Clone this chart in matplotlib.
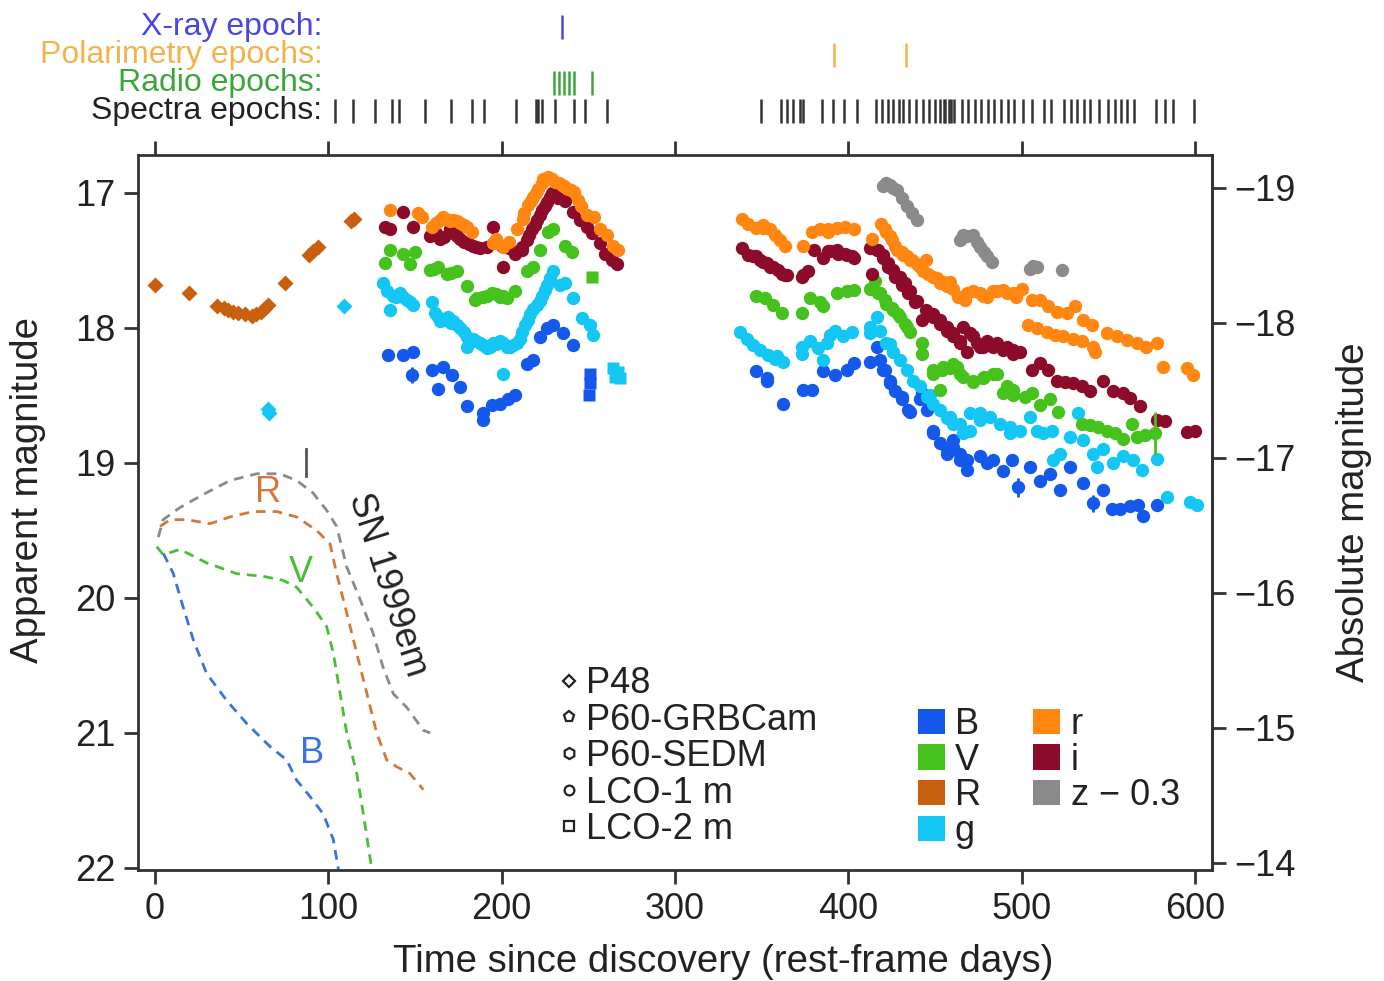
import matplotlib
matplotlib.use('Agg')
import matplotlib.pyplot as plt
from matplotlib.lines import Line2D
from matplotlib.patches import Patch

plt.rcParams['font.family'] = ['Liberation Sans', 'DejaVu Sans']

# ---------------- data (rest-frame days, apparent magnitude) ----------------
R_p48 = [(0, 17.68), (19.6, 17.74), (36, 17.84), (40, 17.85), (42, 17.87), (45, 17.88),
         (48, 17.89), (52, 17.90), (56, 17.91), (58, 17.90), (61, 17.88), (63, 17.86),
         (65, 17.83), (75, 17.67), (89, 17.46), (91, 17.43), (94, 17.40), (113, 17.21),
         (115, 17.19)]
g_p48 = [(65, 18.60), (66, 18.63), (109, 17.84)]

g_obs = [(131.8, 17.67), (133.7, 17.73), (135.6, 17.87), (137.5, 17.76), (139, 17.77),
         (141.4, 17.74), (143, 17.77), (145.2, 17.79), (147, 17.81), (149, 17.83),
         (159.6, 17.81), (161.6, 17.89), (163, 17.92), (164.5, 17.95), (167, 17.94),
         (169.3, 17.92), (171, 17.96), (172, 17.95), (174, 17.98), (176, 18.00),
         (178, 18.03), (179.8, 18.07), (179.8, 18.14), (182, 18.08), (183.7, 18.08),
         (185, 18.10), (187.5, 18.11), (189, 18.13), (191.4, 18.15), (193, 18.14),
         (195.2, 18.11), (197, 18.12), (199, 18.10), (201, 18.34), (201, 18.11),
         (203, 18.14), (205, 18.14), (206.8, 18.13), (209, 18.11), (210.6, 18.08),
         (212, 18.03), (213.5, 17.98), (215, 17.94), (216.4, 17.90), (218, 17.86),
         (220.2, 17.83), (222, 17.80), (223, 17.76), (225, 17.72), (226, 17.68),
         (228, 17.63), (229.8, 17.58), (233.7, 17.68), (236.6, 17.67), (241.4, 17.78),
         (246.2, 17.93), (251, 17.98), (252.9, 18.05),
         (337.5, 18.03), (341.4, 18.08), (345.2, 18.13), (349, 18.16), (353.9, 18.20),
         (357.7, 18.23), (358.7, 18.21), (362.5, 18.25), (373, 18.19), (373, 18.14),
         (378, 18.10), (382.7, 18.15), (385.6, 18.24), (387.5, 18.11), (389.5, 18.05),
         (392.3, 18.02), (397, 18.06), (402, 18.03), (412.5, 18.04), (412.5, 17.99),
         (416.4, 17.92), (418.3, 18.02), (422, 18.11), (424, 18.12), (426, 18.18),
         (429.8, 18.24), (433.7, 18.31), (437.5, 18.39), (441.4, 18.43), (445.2, 18.51),
         (447, 18.50), (449, 18.56), (453, 18.61), (456.8, 18.67), (458.7, 18.66),
         (460.6, 18.71), (464.5, 18.71), (466.4, 18.78), (470, 18.63), (470.2, 18.76),
         (475.9, 18.63), (476, 18.68), (481.7, 18.66), (487.5, 18.71), (493.2, 18.73),
         (493.3, 18.78), (499, 18.76), (504.8, 18.66), (508.6, 18.76), (512.5, 18.78),
         (517.3, 18.76), (518.2, 18.98), (522.1, 18.93), (527.9, 18.81), (532.7, 18.63),
         (535.6, 18.83), (541.3, 18.93), (543.2, 19.03), (547.1, 18.90), (552.9, 19.00),
         (558.6, 18.95), (564.4, 18.98), (569.2, 19.05), (577.9, 18.97), (583.6, 19.25),
         (597.1, 19.29), (600.9, 19.31)]
g_lco2 = [(264, 18.30), (265.5, 18.36), (267, 18.33), (268, 18.37)]

V_obs = [(132.7, 17.52), (135.6, 17.42), (143.3, 17.45), (147.1, 17.53), (150, 17.44),
         (158.7, 17.57), (161, 17.56), (163.5, 17.55), (168.3, 17.60), (171, 17.59),
         (174, 17.58), (179.8, 17.69), (184.7, 17.79), (186, 17.78), (189.5, 17.77),
         (191.5, 17.76), (194.3, 17.74), (197, 17.75), (199, 17.77), (201, 17.76),
         (203, 17.78), (207.7, 17.73), (214.5, 17.58), (218.3, 17.55), (222.2, 17.42),
         (227, 17.29), (229.8, 17.27), (236.6, 17.39), (240.4, 17.44),
         (347, 17.76), (352, 17.78), (356.8, 17.83), (361.6, 17.89), (373, 17.89),
         (378, 17.78), (383.7, 17.81), (385.6, 17.84), (393.3, 17.74), (399, 17.73),
         (403, 17.72), (412.5, 17.71), (415.4, 17.65), (417.3, 17.74), (418.3, 17.74),
         (421, 17.79), (422, 17.82), (425, 17.85), (426, 17.87), (428.9, 17.90),
         (429.8, 17.92), (432.7, 17.97), (433.7, 17.99), (435.6, 18.03), (442.3, 18.11),
         (442.3, 18.19), (449, 18.31), (449, 18.34), (453, 18.46), (453.9, 18.31),
         (454.8, 18.29), (458.7, 18.30), (460.6, 18.27), (462.5, 18.29), (464.5, 18.34),
         (466.3, 18.36), (472, 18.39), (472.1, 18.40), (477.9, 18.37), (478, 18.36),
         (483.6, 18.34), (485.6, 18.34), (489.4, 18.48), (491.4, 18.43), (495.2, 18.50),
         (495, 18.46), (501.9, 18.51), (505.8, 18.48), (510.6, 18.57), (516.3, 18.53),
         (521.1, 18.62), (534.6, 18.71), (539.4, 18.72), (544.2, 18.73), (549, 18.76),
         (553.8, 18.78), (558.6, 18.82), (563.4, 18.71), (566.3, 18.81), (571.1, 18.79),
         (576.9, 18.78)]
V_lco2 = [(252, 17.62)]

r_obs = [(135.6, 17.13), (152, 17.15), (154, 17.18), (159.6, 17.25), (162, 17.22),
         (164.5, 17.20), (166, 17.18), (168, 17.19), (170, 17.21), (172, 17.20),
         (174, 17.21), (176, 17.22), (178, 17.24), (180, 17.25), (182.7, 17.29),
         (195, 17.37), (197, 17.34), (201, 17.40), (204, 17.36), (208.7, 17.27),
         (212.5, 17.19), (213, 17.15), (215.4, 17.09), (217, 17.06), (218, 17.03),
         (220, 17.00), (221, 16.97), (223, 16.93), (224, 16.90), (226, 16.89),
         (227, 16.88), (229, 16.90), (231, 16.92), (233, 16.93), (234.6, 16.94),
         (236, 16.95), (238.5, 16.97), (240, 16.98), (242, 16.99), (244, 17.05),
         (246, 17.10), (249, 17.16), (253, 17.18), (256.8, 17.27), (260.6, 17.31),
         (264.5, 17.39), (267.3, 17.42),
         (338.5, 17.19), (342.3, 17.23), (347, 17.26), (351, 17.24), (351, 17.26),
         (354.8, 17.27), (357.7, 17.31), (360.6, 17.35), (363.5, 17.39), (374, 17.39),
         (379, 17.29), (383.7, 17.27), (388.5, 17.29), (388.5, 17.27), (393.3, 17.26),
         (398, 17.25), (403, 17.27), (413.5, 17.34), (419, 17.23), (421, 17.27),
         (422, 17.29), (424, 17.32), (425, 17.35), (427, 17.39), (428, 17.42),
         (430.8, 17.44), (431.8, 17.46), (433.7, 17.47), (435.6, 17.50), (436.6, 17.50),
         (439.5, 17.53), (441.4, 17.55), (443, 17.58), (445, 17.50), (446, 17.60),
         (449, 17.62), (451, 17.63), (453, 17.67), (454.8, 17.66), (456.8, 17.69),
         (458.7, 17.66), (460.6, 17.71), (463.5, 17.77), (464.5, 17.77), (467.3, 17.79),
         (468.3, 17.74), (472, 17.73), (476, 17.74), (477.9, 17.76), (479.8, 17.77),
         (483.6, 17.73), (485.6, 17.73), (489.4, 17.72), (491.4, 17.74), (495.2, 17.74),
         (497, 17.77), (500, 17.71), (503.8, 17.98), (505.8, 17.79), (508.6, 18.00),
         (510.6, 17.79), (514.4, 18.03), (515.4, 17.84), (519.2, 18.05), (520.2, 17.88),
         (524, 18.06), (525.9, 17.89), (529.8, 18.08), (530.7, 17.84), (534.6, 18.10),
         (535.6, 17.94), (540.4, 17.98), (541.3, 18.14), (542.3, 18.18), (549, 18.04),
         (554.8, 18.06), (560.6, 18.09), (566.3, 18.11), (572, 18.14), (577.9, 18.11),
         (581.7, 18.29), (595.2, 18.30), (599, 18.35)]

i_obs = [(132.7, 17.25), (135.6, 17.27), (143.3, 17.14), (149, 17.25), (158.7, 17.32),
         (162, 17.30), (164.5, 17.34), (167, 17.33), (170, 17.27), (172, 17.30),
         (174, 17.32), (176, 17.34), (178, 17.36), (181, 17.38), (183.7, 17.39),
         (185, 17.40), (187.5, 17.41), (191.4, 17.40), (195.2, 17.25), (200, 17.39),
         (201, 17.55), (204, 17.41), (207.7, 17.45), (211.6, 17.42), (212, 17.40),
         (214.5, 17.35), (216, 17.31), (217.3, 17.27), (219, 17.24), (220.2, 17.20),
         (222, 17.16), (223, 17.13), (225, 17.10), (226, 17.07), (228, 17.03),
         (229, 17.00), (231, 17.02), (232.7, 17.04), (236.6, 17.06), (241.4, 17.14),
         (245.2, 17.20), (249, 17.25), (252, 17.30), (256.8, 17.37), (259.6, 17.45),
         (263.5, 17.50), (266.4, 17.53),
         (338.5, 17.41), (342.3, 17.46), (345, 17.47), (347, 17.47), (349, 17.50),
         (351, 17.51), (353, 17.52), (354.8, 17.55), (356.8, 17.55), (359.6, 17.57),
         (361.6, 17.60), (363.5, 17.61), (364.5, 17.61), (373, 17.62), (374, 17.61),
         (377, 17.58), (380, 17.42), (385.6, 17.48), (388.5, 17.43), (389.5, 17.43),
         (393.3, 17.42), (394, 17.45), (398, 17.45), (399, 17.46), (402, 17.47),
         (403, 17.48), (412.5, 17.41), (413.5, 17.60), (416.4, 17.42), (417, 17.42),
         (420, 17.48), (420, 17.46), (423, 17.55), (423, 17.52), (426, 17.57),
         (427, 17.62), (430, 17.62), (430.8, 17.68), (432.7, 17.67), (434.6, 17.74),
         (435.6, 17.73), (438.5, 17.81), (439.5, 17.80), (442.3, 17.94), (445, 17.87),
         (449, 17.92), (449, 17.90), (453, 17.97), (453, 17.94), (456.8, 18.02),
         (456.8, 17.99), (460.6, 18.06), (460.6, 18.04), (464.5, 18.11), (464.5, 18.10),
         (466.3, 17.99), (468.3, 18.18), (470.2, 18.04), (472, 18.06), (474, 18.11),
         (476, 18.14), (477.9, 18.14), (479.8, 18.10), (483.6, 18.14), (485.6, 18.11),
         (489.4, 18.16), (491.4, 18.14), (495.2, 18.19), (495, 18.16), (499, 18.18),
         (505.8, 18.31), (510.6, 18.26), (515.4, 18.31), (520.2, 18.39), (525, 18.40),
         (529.8, 18.41), (534.6, 18.43), (539.4, 18.47), (547.1, 18.39), (552.9, 18.47),
         (558.6, 18.48), (562.5, 18.52), (568.2, 18.58), (577.9, 18.68), (582.7, 18.69),
         (595.2, 18.77), (600, 18.76)]

B_obs = [(134.6, 18.20), (143.3, 18.20), (149, 18.18), (148, 18.35), (159.6, 18.31),
         (163.5, 18.45), (166.4, 18.29), (171.2, 18.35), (176, 18.44), (179.8, 18.58),
         (189.5, 18.63), (189.5, 18.68), (194.3, 18.57), (199, 18.56), (203.9, 18.53),
         (207.7, 18.50), (214.5, 18.27), (218.3, 18.24), (222.2, 18.07), (226, 18.00),
         (229.8, 17.98), (235.6, 18.04), (241.4, 18.13),
         (347, 18.32), (352.9, 18.37), (352.9, 18.39), (362.5, 18.56), (374, 18.46),
         (379, 18.46), (385.6, 18.32), (392.3, 18.35), (399, 18.31), (403, 18.26),
         (412.5, 18.25), (416.4, 18.14), (418.3, 18.24), (420.2, 18.31), (421, 18.31),
         (424, 18.41), (424, 18.39), (427, 18.47), (430.8, 18.53), (430.8, 18.51),
         (434.6, 18.61), (435.6, 18.62), (441.4, 18.53), (442.3, 18.48), (445.2, 18.61),
         (445.2, 18.53), (449, 18.76), (449, 18.78), (453, 18.85), (456.8, 18.93),
         (456.8, 18.90), (460.6, 18.88), (460.6, 18.83), (464.5, 18.98), (464.5, 18.93),
         (468.3, 19.05), (468.3, 18.98), (475.9, 18.95), (479.8, 19.00), (483.6, 18.98),
         (489.4, 19.06), (494.2, 18.98), (498, 19.18), (504.8, 19.03), (510.6, 19.13),
         (516.3, 19.08), (522.1, 19.20), (527.9, 19.03), (535.6, 19.15), (541.3, 19.30),
         (547.1, 19.20), (551.9, 19.34), (556.7, 19.34), (562.5, 19.32), (567.3, 19.31),
         (570.2, 19.39), (577.9, 19.31)]
B_lco2 = [(251, 18.34), (251, 18.41), (250.5, 18.50)]

z_obs = [(420, 16.95), (422, 16.93), (424, 16.94), (426, 16.96), (428, 16.98),
         (430.8, 17.04), (433.7, 17.10), (436.6, 17.15), (439.5, 17.20), (464.5, 17.35),
         (466, 17.31), (468.3, 17.32), (472.1, 17.31), (474, 17.36), (476, 17.40),
         (478, 17.44), (479.8, 17.47), (482.7, 17.51), (504.8, 17.56), (506.5, 17.54),
         (508.6, 17.55), (523, 17.57)]

# points with visible error bars: (band, day, mag, err)
err_points = [('B', 148, 18.35, 0.06), ('B', 189.5, 18.66, 0.06), ('B', 498, 19.18, 0.07),
              ('B', 541.3, 19.30, 0.06), ('V', 576.9, 18.78, 0.16)]

# SN 1999em template curves (dashed)
sn_B = [(4.8, 19.67), (10.6, 19.82), (16.3, 20.07), (22.1, 20.31), (29.8, 20.56),
        (41.4, 20.76), (52.9, 20.93), (66.3, 21.10), (76, 21.20), (81.7, 21.35),
        (89.4, 21.47), (97.1, 21.60), (102.9, 21.79), (105.8, 22.01)]
sn_V = [(1, 19.62), (4.8, 19.68), (14.4, 19.64), (29.8, 19.74), (47.1, 19.82), (62.5, 19.84),
        (74, 19.87), (81.7, 19.92), (91.3, 20.07), (99, 20.21), (102.9, 20.41), (106.7, 20.70),
        (110.6, 21.00), (116.4, 21.30), (120.2, 21.60), (124, 21.92), (125, 22.0)]
sn_R = [(2.9, 19.47), (8.7, 19.42), (18.3, 19.42), (31.7, 19.45), (43.3, 19.40), (56.5, 19.36),
        (70.2, 19.36), (81.7, 19.40), (93.3, 19.50), (101, 19.60), (104.8, 19.82),
        (110.6, 20.11), (116.4, 20.41), (122.1, 20.70), (127.9, 21.00), (133.7, 21.20),
        (139.4, 21.25), (147, 21.30), (154.8, 21.42)]
sn_I = [(1.9, 19.55), (4.7, 19.42), (14.4, 19.33), (29.8, 19.22), (43.3, 19.13), (58.7, 19.08),
        (72, 19.08), (81.7, 19.13), (91, 19.22), (99, 19.35), (104.8, 19.47), (110.6, 19.77),
        (118.3, 20.01), (125.8, 20.26), (131.5, 20.51), (137.5, 20.71), (145.2, 20.81),
        (154.8, 20.98), (158.7, 21.00)]

# observation epochs
xray_epochs = [235]
pol_epochs = [392, 433]
radio_epochs = [230, 233, 236, 239, 242, 252]
spectra_epochs = [104, 114, 127, 137, 141, 156, 171, 183, 190, 208, 220, 221, 223, 231, 242,
                  248, 261, 349.6, 361, 364.8, 368, 372, 374, 385, 391, 397.5, 405, 416,
                  419.6, 422.7, 426, 429, 431.5, 435, 439, 442.8, 446.6, 450, 453, 455, 456,
                  458, 459, 461, 465.5, 469, 473, 476.7, 480.5, 484, 488, 492, 495.7, 500.7,
                  505.7, 513, 517, 524.5, 528.4, 532, 536, 539.7, 544.6, 549.8, 553.6, 557.3,
                  561, 564.8, 577.5, 582.5, 587.5, 599.5]

band_colors = {'B': '#1458ec', 'V': '#46c21c', 'R': '#c8600f', 'g': '#14c6f4',
               'r': '#ff8610', 'i': '#8c0a2a', 'z': '#8a8a8a'}
DIST_MOD = 35.963

# ---------------- figure ----------------
W, H = 1384, 981
fig = plt.figure(figsize=(W / 100, H / 100), dpi=100)
ax = fig.add_axes([138 / W, 1 - 870 / H, (1212 - 138) / W, (870 - 155) / H])
ax_ep = fig.add_axes([138 / W, 1 - 125 / H, (1212 - 138) / W, 112 / H])

frame_c = '#333333'
fs = 26
lfs = 27.6


def unzip(pairs):
    return [p[0] for p in pairs], [p[1] for p in pairs]


# SN 1999em comparison
for pairs, c in [(sn_I, '#8a8a8a'), (sn_R, '#d2783c'), (sn_V, '#4cbb3a'), (sn_B, '#3a72e0')]:
    t, m = unzip(pairs)
    ax.plot(t, m, ls=(0, (3.5, 2.5)), color=c, lw=2.0, zorder=2)
ax.plot([87, 87], [18.9, 19.1], color='#555555', lw=2.0)
ax.text(65, 19.22, 'R', color='#d2783c', fontsize=fs, ha='center', va='center')
ax.text(84, 19.81, 'V', color='#4cbb3a', fontsize=fs, ha='center', va='center')
ax.text(90.5, 21.15, 'B', color='#3a72e0', fontsize=fs, ha='center', va='center')
ax.text(134, 19.90, 'SN 1999em', color='#222222', fontsize=fs, ha='center', va='center',
        rotation=-72, rotation_mode='anchor')

ms = 9.6
# photometry
for pairs, band, mk in [(R_p48, 'R', 'D'), (g_p48, 'g', 'D')]:
    t, m = unzip(pairs)
    ax.plot(t, m, ls='none', marker=mk, ms=ms - 1.0, color=band_colors[band], mec='none', zorder=3)
for pairs, band in [(B_obs, 'B'), (g_obs, 'g'), (V_obs, 'V'), (i_obs, 'i'), (r_obs, 'r'), (z_obs, 'z')]:
    t, m = unzip(pairs)
    ax.plot(t, m, ls='none', marker='o', ms=ms, color=band_colors[band], mec='none', zorder=3)
for pairs, band in [(B_lco2, 'B'), (g_lco2, 'g'), (V_lco2, 'V')]:
    t, m = unzip(pairs)
    ax.plot(t, m, ls='none', marker='s', ms=ms - 1, color=band_colors[band], mec='none', zorder=3)
for band, t, m, e in err_points:
    ax.errorbar([t], [m], yerr=[e], fmt='none', ecolor=band_colors[band], elinewidth=2, capsize=0, zorder=3)

# axes styling
ax.set_xlim(-9.8, 609.8)
ax.set_ylim(22.015, 16.719)
ax.set_xticks([0, 100, 200, 300, 400, 500, 600])
ax.set_yticks([17, 18, 19, 20, 21, 22])
for s in ax.spines.values():
    s.set_color(frame_c)
    s.set_linewidth(2)
ax.tick_params(axis='both', which='both', direction='out', length=10, width=2, color=frame_c,
               labelsize=fs, labelcolor='#222222', pad=6)
ax.tick_params(axis='x', top=True, labeltop=False)
ax.tick_params(axis='y', right=False)
ax.set_xlabel('Time since discovery (rest-frame days)', fontsize=lfs, color='#222222')
ax.xaxis.set_label_coords(0.545, -0.103)
ax.set_ylabel('Apparent magnitude', fontsize=lfs, color='#222222')
ax.yaxis.set_label_coords(-0.086, 0.531)

sec = ax.secondary_yaxis('right', functions=(lambda m: m - DIST_MOD, lambda M: M + DIST_MOD))
sec.set_yticks([-19, -18, -17, -16, -15, -14])
sec.spines['right'].set_color(frame_c)
sec.spines['right'].set_linewidth(2)
sec.tick_params(direction='out', length=10, width=2, color=frame_c, labelsize=fs,
                labelcolor='#222222', pad=6)
sec.set_ylabel('Absolute magnitude', fontsize=lfs, color='#222222', labelpad=29)

# legends
mk_handles = [Line2D([], [], ls='none', marker=mk, ms=msz, mfc='white', mec='#222222', mew=1.6, label=lab)
              for mk, msz, lab in [('D', 6.5, 'P48'), ('p', 8, 'P60-GRBCam'), ('h', 8, 'P60-SEDM'),
                                    ('o', 7, 'LCO-1 m'), ('s', 6.5, 'LCO-2 m')]]
leg1 = ax.legend(handles=mk_handles, loc='upper left', bbox_to_anchor=(0.39, 0.285), frameon=False,
                 fontsize=fs, handlelength=0.7, handletextpad=0.12, labelspacing=0.04,
                 borderpad=0, borderaxespad=0)
for txt in leg1.get_texts():
    txt.set_color('#222222')
ax.add_artist(leg1)

col_labels = ['B', 'V', 'R', 'g', 'r', 'i', 'z \u2212 0.3']
col_keys = ['B', 'V', 'R', 'g', 'r', 'i', 'z']
col_handles = [Patch(facecolor=band_colors[k], edgecolor='none', label=l) for k, l in zip(col_keys, col_labels)]
leg2 = ax.legend(handles=col_handles, ncol=2, loc='upper left', bbox_to_anchor=(0.726, 0.228),
                 frameon=False, fontsize=fs, handlelength=0.75, handleheight=0.7,
                 handletextpad=0.28, labelspacing=0.02, columnspacing=1.45, borderpad=0, borderaxespad=0)
for txt in leg2.get_texts():
    txt.set_color('#222222')

# epoch panel
ax_ep.set_xlim(ax.get_xlim())
ax_ep.set_ylim(4, 0)
ax_ep.axis('off')
rows = [(xray_epochs, 0.5, '#4a46e0', 'X-ray epoch:'),
        (pol_epochs, 1.5, '#f2b44a', 'Polarimetry epochs:'),
        (radio_epochs, 2.5, '#3aa63a', 'Radio epochs:'),
        (spectra_epochs, 3.5, '#333333', 'Spectra epochs:')]
for ep, y, c, lab in rows:
    ax_ep.vlines(ep, y - 0.42, y + 0.42, color=c, lw=1.8)
    ax_ep.text(96.5, y, lab, color=c if c != '#333333' else '#222222', fontsize=23,
               ha='right', va='center')

fig.savefig('out.png', dpi=100)
